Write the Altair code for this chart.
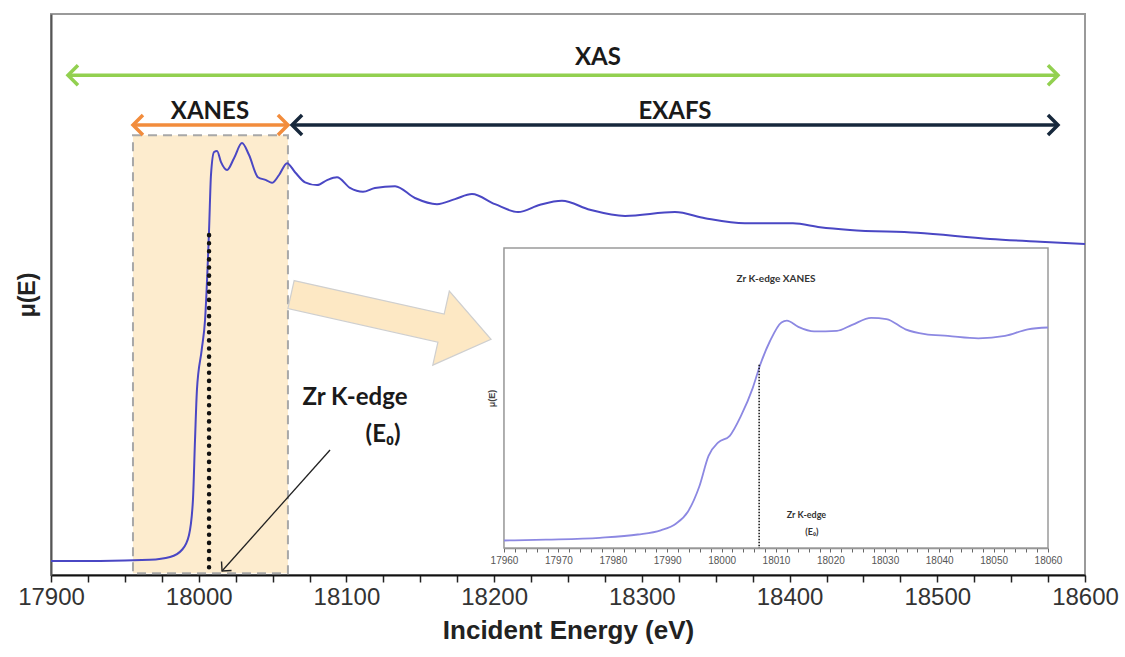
import altair as alt
import pandas as pd

# ---------------- data ----------------
main_E = [17900, 17933.2, 17967.0, 17980.6, 17988.7, 17993.4, 17996.1, 17997.5, 17998.8,
          18002.0, 18004.3, 18007.0, 18008.3, 18010.4, 18012.4, 18015.1, 18019.2, 18023.9,
          18029.3, 18034.0, 18040.1, 18045.6, 18049.6, 18054.4, 18059.8, 18065.2, 18072.0,
          18080.1, 18086.9, 18093.6, 18102.4, 18111.2, 18119.3, 18132.9, 18146.4, 18161.3,
          18173.5, 18185.0, 18200.6, 18216.2, 18231.1, 18245.9, 18264.9, 18288.6, 18322.4,
          18342.8, 18369.8, 18402.3, 18420.6, 18440.9, 18486.3, 18535.7, 18569.6, 18600]
main_mu = [0.025, 0.025, 0.027, 0.032, 0.045, 0.071, 0.134, 0.241, 0.330,
           0.401, 0.455, 0.615, 0.713, 0.754, 0.756, 0.736, 0.722, 0.743,
           0.770, 0.749, 0.709, 0.704, 0.699, 0.713, 0.734, 0.718, 0.700,
           0.695, 0.704, 0.709, 0.690, 0.683, 0.690, 0.693, 0.672, 0.661,
           0.670, 0.679, 0.661, 0.647, 0.660, 0.667, 0.651, 0.640, 0.647,
           0.636, 0.627, 0.627, 0.620, 0.615, 0.610, 0.599, 0.594, 0.590]

inset_E = [17960, 17967.7, 17977.6, 17984.6, 17988.8, 17991.6, 17993.8, 17995.9, 17997.6,
           17999.4, 18001.5, 18003.6, 18005.7, 18007.1, 18008.9, 18011.0, 18012.0, 18014.1,
           18017.0, 18021.2, 18024.0, 18027.5, 18030.3, 18033.8, 18037.4, 18041.6, 18047.2,
           18052.1, 18056.3, 18060.0]
inset_mu = [0.025, 0.028, 0.034, 0.045, 0.059, 0.081, 0.121, 0.205, 0.307,
            0.352, 0.374, 0.442, 0.532, 0.611, 0.690, 0.752, 0.758, 0.737,
            0.722, 0.724, 0.744, 0.767, 0.763, 0.729, 0.713, 0.707, 0.699,
            0.707, 0.729, 0.735]

E0_main = 18007.0
E0_inset = 18006.9

main_ticks = list(range(17900, 18601, 25))
inset_ticks = list(range(17960, 18061, 2))

# region arrows: (start, end, level) in eV / mu units
xas_span = [17911.5, 18581.7, 0.891]
xanes_span = [17955.5, 18060.4, 0.802]
exafs_span = [18063.2, 18581.7, 0.802]
region_labels = ["XAS", "XANES", "EXAFS"]
region_label_E = [18270.3, 18007.6, 18322.4]
region_label_mu = [0.9216, 0.825, 0.825]

# ---------------- scales / axes ----------------
W, H = 1034, 561
sx = alt.Scale(domain=[17900, 18600], nice=False, zero=False)
sy = alt.Scale(domain=[0, 1], nice=False, zero=False)
ax_x = alt.Axis(values=main_ticks, format="d",
                labelExpr="datum.value % 100 === 0 ? datum.label : ''",
                labelFont="Liberation Sans", labelFontSize=24, labelColor="#333",
                labelPadding=3, labelOverlap=False, labelFlush=False,
                tickSize=7, tickColor="#222", tickWidth=1.5,
                domainColor="#111", domainWidth=2, grid=False,
                title="Incident Energy (eV)", titleFont="Liberation Sans",
                titleFontSize=26, titleFontWeight="bold", titleColor="#222",
                titlePadding=8)
ax_y = alt.Axis(ticks=False, labels=False, grid=False, domainColor="#555",
                domainWidth=2, title="μ(E)", titleFont="Liberation Sans",
                titleFontSize=23, titleFontWeight="bold", titleColor="#222",
                titlePadding=12)
X = alt.X("E:Q", scale=sx, axis=ax_x)
Y = alt.Y("mu:Q", scale=sy, axis=ax_y)

sxi = alt.Scale(domain=[17960, 18060], range=[453, 997], nice=False, zero=False)
syi = alt.Scale(domain=[0, 1], range=[534, 234], nice=False, zero=False)
ax_xi = alt.Axis(orient="bottom", offset=-27, values=inset_ticks, format="d",
                 labelExpr="datum.value % 10 === 0 ? datum.label : ''",
                 labelFont="Liberation Sans", labelFontSize=10, labelColor="#555",
                 labelPadding=3, labelOverlap=False, labelFlush=False,
                 tickSize=4, tickColor="#666", domainColor="#888", domainWidth=1.5,
                 grid=False, title="")
ax_yi = alt.Axis(orient="left", offset=-453, ticks=False, labels=False, grid=False,
                 domainColor="#888", domainWidth=1.5, title="μ(E)",
                 titleFont="Liberation Sans", titleFontSize=9, titleFontWeight="bold",
                 titleColor="#444", titlePadding=8)
XI = alt.X("E:Q", scale=sxi, axis=ax_xi)
YI = alt.Y("mu:Q", scale=syi, axis=ax_yi)

# ---------------- main layers ----------------
curve_df = pd.DataFrame({"E": main_E, "mu": main_mu})
box_df = pd.DataFrame({"E": [xanes_span[0]], "E2": [xanes_span[1]], "mu": [0.003], "mu2": [0.784]})

box = alt.Chart(box_df).mark_rect(fill="#fdecce", stroke="#a8a8a8", strokeWidth=2,
                                  strokeDash=[9, 6]).encode(
    x=X, x2="E2:Q", y=Y, y2="mu2:Q")

curve = alt.Chart(curve_df).mark_line(color="#4a47c4", strokeWidth=2,
                                      interpolate="monotone").encode(x=X, y=Y)

dot_df = pd.DataFrame({"E": [E0_main, E0_main], "mu": [0.606, 0.005]})
dotted = alt.Chart(dot_df).mark_line(color="#111", strokeWidth=4.5, strokeDash=[0.1, 8],
                                     strokeCap="round").encode(x=X, y=Y)

spans = pd.DataFrame({
    "E": [xas_span[0], xanes_span[0], exafs_span[0]],
    "E2": [xas_span[1], xanes_span[1], exafs_span[1]],
    "mu": [xas_span[2], xanes_span[2], exafs_span[2]],
    "name": region_labels,
})
colors = alt.Scale(domain=region_labels, range=["#92d050", "#f28c3c", "#17283c"])
span_lines = alt.Chart(spans).mark_rule(strokeWidth=3.5).encode(
    x=X, x2="E2:Q", y=Y,
    color=alt.Color("name:N", scale=colors, legend=None))

chev = "M-1,-1L0,0L-1,1"
heads = pd.DataFrame({
    "E": [xas_span[0], xas_span[1], xanes_span[0], xanes_span[1], exafs_span[0], exafs_span[1]],
    "mu": [xas_span[2], xas_span[2], xanes_span[2], xanes_span[2], exafs_span[2], exafs_span[2]],
    "name": ["XAS", "XAS", "XANES", "XANES", "EXAFS", "EXAFS"],
    "ang": [180, 0, 180, 0, 180, 0],
})
head_marks = alt.Chart(heads).mark_point(shape=chev, filled=False, size=400, strokeWidth=3.5,
                                         opacity=1, strokeJoin="miter").encode(
    x=X, y=Y,
    color=alt.Color("name:N", scale=colors, legend=None),
    angle=alt.Angle("ang:Q", scale=None))

lab_df = pd.DataFrame({"E": region_label_E, "mu": region_label_mu, "t": region_labels})
labels = alt.Chart(lab_df).mark_text(font="Lato", fontSize=24, fontWeight="bold",
                                     color="#1a1a1a", align="center", baseline="middle").encode(
    x=X, y=Y, text="t:N")

# big pale arrow towards inset
block = "M-1,-0.14L0.5,-0.14L0.5,-0.37L1,0L0.5,0.37L0.5,0.14L-1,0.14Z"
blk_df = pd.DataFrame({"E": [18130.2], "mu": [0.46]})
block_arrow = alt.Chart(blk_df).mark_point(shape=block, filled=True, fill="#fde8c4",
                                           stroke="#cfcfcf", strokeWidth=1.2, size=42000,
                                           angle=12.6, opacity=1).encode(x=X, y=Y)

# Zr K-edge annotation
zr_df = pd.DataFrame({"E": [18105.8, 18124.8], "mu": [0.3155, 0.2496], "t": ["Zr K-edge", "(E₀)"]})
zr_text = alt.Chart(zr_df).mark_text(font="Lato", fontSize=24, fontWeight="bold",
                                     color="#1a1a1a", align="center", baseline="middle").encode(
    x=X, y=Y, text="t:N")
ptr_df = pd.DataFrame({"E": [18088.9, 18015.8], "mu": [0.2228, 0.0071]})
ptr = alt.Chart(ptr_df).mark_line(color="#222", strokeWidth=1.3).encode(x=X, y=Y)
ptr_head = alt.Chart(ptr_df.iloc[[1]]).mark_point(shape=chev, filled=False, size=180,
                                                  strokeWidth=1.4, color="#222", opacity=1,
                                                  angle=131.8).encode(x=X, y=Y)

main = alt.layer(box, curve, dotted, span_lines, head_marks, labels, block_arrow,
                 zr_text, ptr, ptr_head)

# ---------------- inset layers ----------------
irect_df = pd.DataFrame({"E": [17960], "E2": [18060], "mu": [0], "mu2": [1]})
irect = alt.Chart(irect_df).mark_rect(fill="white", stroke="#9a9a9a", strokeWidth=1.5).encode(
    x=XI, x2="E2:Q", y=YI, y2="mu2:Q")
icurve = alt.Chart(pd.DataFrame({"E": inset_E, "mu": inset_mu})).mark_line(
    color="#8c88e2", strokeWidth=1.8, interpolate="monotone").encode(x=XI, y=YI)
idot = alt.Chart(pd.DataFrame({"E": [E0_inset, E0_inset], "mu": [0.611, 0.0]})).mark_line(
    color="#111", strokeWidth=1.5, strokeDash=[1.5, 1.5]).encode(x=XI, y=YI)
ititle = alt.Chart(pd.DataFrame({"E": [18010], "mu": [0.898], "t": ["Zr K-edge XANES"]})).mark_text(
    font="Lato", fontSize=10, fontWeight="bold", color="#333", align="center",
    baseline="middle").encode(x=XI, y=YI, text="t:N")
ilab = alt.Chart(pd.DataFrame({"E": [18015.6, 18016.6], "mu": [0.11, 0.053],
                               "t": ["Zr K-edge", "(E₀)"]})).mark_text(
    font="Lato", fontSize=9, fontWeight="bold", color="#333", align="center",
    baseline="middle").encode(x=XI, y=YI, text="t:N")

inset = alt.layer(irect, icurve, idot, ititle, ilab)

chart = alt.layer(main, inset).resolve_scale(x="independent", y="independent").properties(
    width=W, height=H,
    autosize=alt.AutoSizeParams(type="none"),
    padding={"left": 51, "top": 14, "right": 40, "bottom": 82},
    background="white",
).configure_view(stroke="#9a9a9a", strokeWidth=2)

chart.save("out.html", embed_options={"renderer": "svg", "actions": False})
